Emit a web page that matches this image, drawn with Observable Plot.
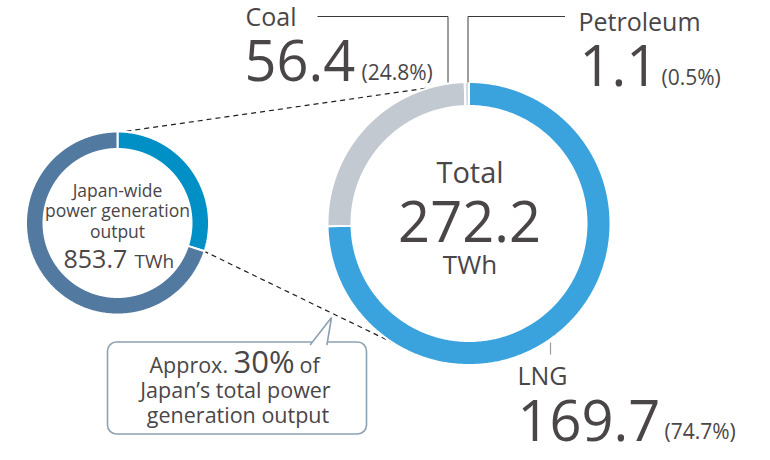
<!DOCTYPE html>
<html><head><meta charset="utf-8">
<script src="https://cdn.jsdelivr.net/npm/d3@7"></script>
<script src="https://cdn.jsdelivr.net/npm/@observablehq/plot@0.6"></script>
<style>body{margin:0;background:#fff}svg{display:block}</style>
</head><body><div id="chart"></div>
<script>
// ---- data ----
const fuelNames = ["LNG", "Coal", "Petroleum"];
const fuelOutput = [169.7, 56.4, 1.1];          // TWh
const fuelShareLabels = ["74.7%", "24.8%", "0.5%"];
const totalOutput = "272.2";
const unitLabel = "TWh";
const japanParts = ["This output", "Rest of Japan"];
const japanShares = [30, 70];                  // % ("Approx. 30%")
const japanTotal = "853.7";
const centerLines = ["Total"];
const japanLines = ["Japan-wide", "power generation", "output"];
const calloutLines = ["Approx.", "30%", "of", "Japan\u2019s total power", "generation output"];

// ---- styling / layout ----
const fuelColors = ["#3aa2dc", "#c3c9d1", "#d7dce1"];
const japanColors = ["#0090c6", "#52799f"];
const textColor = "#4a4647";
const bigRing = {cx: 468.5, cy: 223, r0: 117.5, r1: 141.5, start: 0};
const smallRing = {cx: 117, cy: 222.5, r0: 74, r1: 91.5, start: 0};

function polar(g, deg, r) {
  const a = deg * Math.PI / 180;
  return {x: g.cx + r * Math.sin(a), y: g.cy - r * Math.cos(a)};
}
function ring(names, values, g, tag) {
  const total = d3.sum(values);
  const pts = [];
  let a = g.start;
  const bounds = [];
  names.forEach((name, i) => {
    const a0 = a, a1 = a + values[i] / total * 360;
    bounds.push([a0, a1]);
    const n = Math.max(2, Math.ceil((a1 - a0) / 0.5));
    const key = tag + i;
    for (let k = 0; k <= n; k++) pts.push({key, name, ...polar(g, a0 + (a1 - a0) * k / n, g.r1)});
    for (let k = n; k >= 0; k--) pts.push({key, name, ...polar(g, a0 + (a1 - a0) * k / n, g.r0)});
    pts.push({key, name, ...polar(g, a0, g.r1)});
    a = a1;
  });
  return {pts, bounds};
}
const big = ring(fuelNames, fuelOutput, bigRing, "b");
const small = ring(japanParts, japanShares, smallRing, "s");

// dashed "zoom" connectors: from the small ring's highlighted slice to the big ring
const rOut = 140.5;
const connectorTargets = [-13, 206.5];
const connectors = [
  [polar(smallRing, small.bounds[0][0], 90.5), polar(bigRing, connectorTargets[0], rOut)],
  [polar(smallRing, small.bounds[0][1], 90.5), polar(bigRing, connectorTargets[1], rOut)]
].map(([p, q]) => ({x1: p.x, y1: p.y, x2: q.x, y2: q.y}));

// leader lines for labels
const leaders = [
  {key: "coal", x: 317, y: 16}, {key: "coal", x: 447.5, y: 16}, {key: "coal", x: 447.5, y: 82},
  {key: "pet", x: 467.5, y: 82}, {key: "pet", x: 467.5, y: 16}, {key: "pet", x: 564.5, y: 16}
];
const lngTick = [{x: 550, y: 342}, {x: 550, y: 354}];

const calloutBox = [{x1: 107.5, x2: 366.5, y1: 342, y2: 434}];
const calloutPointer = [{x: 310, y: 344}, {x: 331, y: 317}, {x: 326.5, y: 344}];

const startLabels = [
  {text: fuelNames[1], x: 245, y: 25, size: 25},
  {text: fuelOutput[1].toFixed(1), x: 244, y: 80, size: 56},
  {text: `(${fuelShareLabels[1]})`, x: 361, y: 79, size: 21},
  {text: fuelNames[2], x: 578, y: 30, size: 25},
  {text: fuelOutput[2].toFixed(1), x: 579, y: 85, size: 56},
  {text: `(${fuelShareLabels[2]})`, x: 661, y: 84, size: 21},
  {text: fuelNames[0], x: 517, y: 384, size: 25},
  {text: fuelOutput[0].toFixed(1), x: 517, y: 440, size: 56},
  {text: `(${fuelShareLabels[0]})`, x: 664, y: 438, size: 21},
  {text: japanTotal, x: 63, y: 267, size: 25},
  {text: unitLabel, x: 134, y: 267, size: 19},
  {text: calloutLines[0], x: 149, y: 372, size: 21.5},
  {text: calloutLines[1], x: 233, y: 372, size: 31},
  {text: calloutLines[2], x: 299, y: 372, size: 21.5}
];
const middleLabels = [
  {text: centerLines[0], x: 469.5, y: 182, size: 29},
  {text: totalOutput, x: 469, y: 241, size: 56},
  {text: unitLabel, x: 469.5, y: 273, size: 26},
  {text: japanLines[0], x: 117, y: 196, size: 17.5},
  {text: japanLines[1], x: 117, y: 216, size: 17.5},
  {text: japanLines[2], x: 117, y: 237, size: 17.5},
  {text: calloutLines[3], x: 235, y: 397, size: 21.5},
  {text: calloutLines[4], x: 237.5, y: 422, size: 21.5}
];

const chart = Plot.plot({
  width: 770, height: 460, margin: 0,
  style: {fontFamily: "'Open Sans', sans-serif", background: "white"},
  x: {domain: [0, 770], range: [0, 770], axis: null},
  y: {domain: [0, 460], range: [0, 460], axis: null},
  color: {domain: [...fuelNames, ...japanParts], range: [...fuelColors, ...japanColors]},
  marks: [
    Plot.link(connectors, {x1: "x1", y1: "y1", x2: "x2", y2: "y2", stroke: "#1f1f1f", strokeWidth: 1.2, strokeDasharray: "5,4"}),
    Plot.line(small.pts, {x: "x", y: "y", z: "key", fill: "name", stroke: "white", strokeWidth: 2, curve: "linear", strokeLinejoin: "miter"}),
    Plot.line(big.pts, {x: "x", y: "y", z: "key", fill: "name", stroke: "white", strokeWidth: 2, curve: "linear", strokeLinejoin: "miter"}),
    Plot.line(leaders, {x: "x", y: "y", z: "key", stroke: "#3a3a3a", strokeWidth: 1, strokeLinejoin: "miter", strokeLinecap: "butt"}),
    Plot.line(lngTick, {x: "x", y: "y", stroke: "#9a9a9a", strokeWidth: 1.2, strokeLinecap: "butt"}),
    Plot.rect(calloutBox, {x1: "x1", x2: "x2", y1: "y1", y2: "y2", rx: 9, fill: "white", stroke: "#8ea1b2", strokeWidth: 1.6}),
    Plot.line(calloutPointer, {x: "x", y: "y", fill: "white", stroke: "#8ea1b2", strokeWidth: 1.6, strokeLinejoin: "miter"}),
    Plot.text(startLabels, {x: "x", y: "y", text: "text", fontSize: d => d.size, textAnchor: "start", lineAnchor: "bottom", fill: textColor}),
    Plot.text(middleLabels, {x: "x", y: "y", text: "text", fontSize: d => d.size, textAnchor: "middle", lineAnchor: "bottom", fill: textColor})
  ]
});
document.getElementById("chart").append(chart);
</script>
</body></html>
